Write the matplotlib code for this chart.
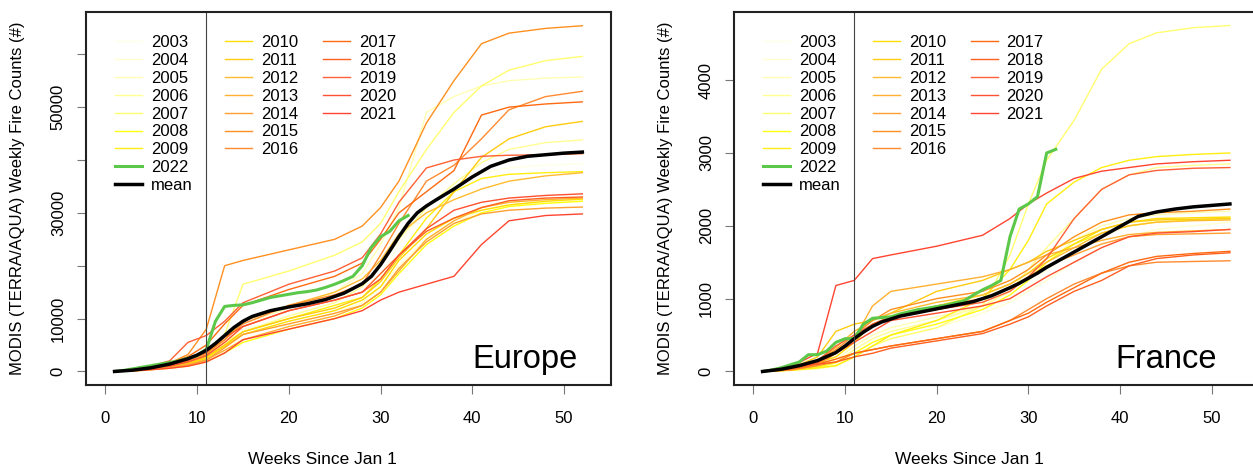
import matplotlib.pyplot as plt

plt.rcParams['font.family'] = ['Liberation Sans', 'DejaVu Sans']

# years and their colours (pale yellow -> red)
years = list(range(2003, 2022))
year_colors = ['#FFFFE6', '#FFFFD2', '#FFFFB4', '#FFFF94', '#FFFF70', '#FFFF10',
               '#FFEE10', '#FFDD00', '#FFCC10', '#FFBB30', '#FFB030', '#FFA030',
               '#FF9020', '#FF8A30', '#FF6A10', '#FF6020', '#FF6035', '#FF5030',
               '#FF4530']
green_2022 = '#5CC84A'

# cumulative weekly fire counts, read at these weeks
weeks = [1, 4, 7, 9, 11, 13, 15, 20, 25, 28, 30, 32, 35, 38, 41, 44, 48, 52]
weeks_2022 = list(range(1, 34))
weeks_mean = [1, 3, 5, 7, 9, 10, 11, 12, 13, 14, 15, 16, 18, 20, 22, 24, 26, 28, 29,
              30, 31, 32, 33, 34, 35, 36, 38, 40, 42, 44, 46, 48, 50, 52]

europe_counts = [
    [0, 300, 900, 1600, 2800, 5500, 8000, 10000, 12000, 14000, 18000, 24000, 31000, 35000, 37500, 38500, 39000, 39300],  # 2003
    [0, 200, 700, 1200, 2200, 4500, 7000, 9000, 11000, 13000, 16000, 20000, 25000, 28000, 30500, 31500, 32000, 32300],  # 2004
    [0, 400, 1200, 2000, 3500, 6500, 9000, 12000, 15000, 18500, 24000, 31000, 49000, 52000, 54000, 55000, 55500, 55700],  # 2005
    [0, 400, 1000, 1800, 3000, 5500, 7500, 10500, 13000, 16000, 20000, 25000, 31000, 35500, 39500, 42000, 43300, 43800],  # 2006
    [0, 400, 1100, 2000, 3800, 7000, 16500, 19000, 22000, 24500, 28000, 34000, 42000, 49000, 54000, 57000, 58800, 59600],  # 2007
    [0, 200, 600, 1000, 1800, 3500, 5500, 8000, 10000, 12000, 14500, 18500, 24000, 27500, 30000, 31200, 31800, 32200],  # 2008
    [0, 300, 800, 1400, 2500, 5000, 7500, 10000, 12500, 14000, 17500, 22000, 29000, 34000, 36500, 37300, 37600, 37800],  # 2009
    [0, 300, 900, 1500, 2500, 4800, 7000, 9500, 11500, 13500, 16000, 21000, 26000, 29000, 30500, 31500, 32200, 32600],  # 2010
    [0, 400, 1000, 1600, 2800, 5000, 7500, 10000, 12000, 14000, 17000, 21500, 27000, 34000, 40500, 44000, 46300, 47300],  # 2011
    [0, 400, 1100, 1800, 3200, 6000, 9500, 12500, 15000, 17500, 21000, 26000, 30000, 32500, 34500, 36000, 37000, 37600],  # 2012
    [0, 300, 800, 1300, 2200, 4000, 6000, 8500, 10500, 12500, 15000, 19000, 25000, 28500, 31000, 32000, 32500, 32800],  # 2013
    [0, 200, 700, 1200, 2100, 4500, 7000, 9000, 11000, 12500, 15000, 19500, 24500, 28000, 29800, 30500, 30900, 31100],  # 2014
    [0, 600, 1600, 3200, 8000, 20000, 21000, 23000, 25000, 27500, 31000, 36000, 47000, 55000, 62000, 64000, 64900, 65400],  # 2015
    [0, 400, 1200, 2000, 3500, 6000, 9000, 12500, 14500, 16500, 22000, 28000, 36000, 39000, 44000, 49500, 52000, 53000],  # 2016
    [0, 500, 1600, 2800, 5000, 9000, 12500, 15500, 18000, 20500, 25000, 30000, 34000, 38000, 48500, 50000, 50600, 51000],  # 2017
    [0, 400, 1200, 2200, 3500, 6500, 8500, 11500, 13500, 15000, 18500, 22000, 26500, 29000, 31000, 32300, 32800, 33000],  # 2018
    [0, 600, 2000, 5500, 6800, 9500, 13000, 16500, 19000, 21500, 26000, 32000, 38500, 40000, 40700, 40900, 41000, 41200],  # 2019
    [0, 400, 1000, 1800, 3000, 5500, 8500, 11500, 13500, 15000, 17500, 22000, 27000, 30500, 32000, 32800, 33300, 33600],  # 2020
    [0, 200, 600, 1000, 1800, 3500, 6000, 8000, 10000, 11500, 13500, 15000, 16500, 18000, 24000, 28500, 29500, 29800],  # 2021
]
europe_2022 = [0, 200, 500, 800, 1100, 1400, 1700, 2000, 2500, 3000, 4200, 9500, 12300,
               12500, 12600, 13000, 13500, 14000, 14300, 14600, 14900, 15100, 15400, 15900,
               16500, 17200, 18000, 20000, 23500, 25500, 26500, 28500, 29500]
europe_mean = [0, 250, 700, 1400, 2400, 3100, 4000, 5300, 6800, 8300, 9500, 10400, 11500,
               12200, 12800, 13600, 14800, 16600, 18000, 20200, 22800, 25500, 28000, 30000,
               31300, 32400, 34500, 36800, 38800, 40000, 40700, 41000, 41300, 41500]

france_counts = [
    [0, 20, 50, 90, 250, 400, 500, 700, 850, 1000, 1150, 1400, 1650, 1850, 2000, 2080, 2110, 2130],  # 2003
    [0, 15, 40, 70, 200, 350, 450, 600, 800, 950, 1100, 1250, 1500, 1700, 1850, 1950, 2000, 2050],  # 2004
    [0, 30, 80, 160, 350, 500, 600, 750, 900, 1100, 1300, 1500, 1800, 2000, 2100, 2150, 2180, 2200],  # 2005
    [0, 20, 60, 120, 300, 450, 550, 700, 900, 1100, 1400, 1700, 2100, 2500, 2700, 2800, 2830, 2850],  # 2006
    [0, 15, 40, 80, 200, 350, 450, 600, 900, 1600, 2300, 2900, 3450, 4150, 4500, 4650, 4720, 4750],  # 2007
    [0, 20, 60, 120, 250, 400, 500, 650, 850, 1050, 1250, 1500, 1750, 1900, 2000, 2050, 2080, 2100],  # 2008
    [0, 15, 50, 80, 200, 350, 500, 700, 1000, 1400, 1800, 2300, 2600, 2800, 2900, 2950, 2980, 3000],  # 2009
    [0, 40, 120, 200, 400, 650, 750, 900, 1050, 1200, 1350, 1550, 1750, 1950, 2050, 2100, 2110, 2120],  # 2010
    [0, 40, 200, 550, 650, 700, 800, 1100, 1250, 1400, 1500, 1650, 1800, 1950, 2050, 2080, 2090, 2100],  # 2011
    [0, 50, 150, 330, 550, 700, 800, 950, 1050, 1200, 1350, 1500, 1700, 1900, 2000, 2050, 2070, 2080],  # 2012
    [0, 20, 80, 250, 450, 900, 1100, 1200, 1300, 1400, 1500, 1600, 1700, 1800, 1880, 1910, 1930, 1950],  # 2013
    [0, 30, 120, 250, 450, 650, 750, 900, 1000, 1150, 1300, 1450, 1600, 1750, 1850, 1880, 1890, 1900],  # 2014
    [0, 40, 150, 300, 500, 700, 850, 1000, 1100, 1250, 1400, 1600, 1850, 2050, 2150, 2180, 2200, 2230],  # 2015
    [0, 20, 80, 130, 250, 300, 350, 450, 550, 700, 850, 1000, 1200, 1350, 1450, 1500, 1510, 1520],  # 2016
    [0, 30, 100, 170, 250, 300, 350, 450, 550, 700, 800, 950, 1150, 1350, 1500, 1580, 1620, 1650],  # 2017
    [0, 80, 100, 130, 200, 250, 320, 420, 520, 650, 750, 900, 1100, 1250, 1450, 1550, 1600, 1630],  # 2018
    [0, 50, 150, 350, 500, 650, 750, 850, 950, 1100, 1300, 1550, 2100, 2500, 2700, 2760, 2790, 2800],  # 2019
    [0, 40, 120, 250, 400, 550, 700, 800, 900, 1000, 1150, 1300, 1500, 1700, 1850, 1900, 1920, 1950],  # 2020
    [0, 60, 250, 1180, 1250, 1550, 1600, 1720, 1870, 2100, 2300, 2450, 2650, 2750, 2800, 2850, 2880, 2900],  # 2021
]
france_2022 = [0, 20, 50, 90, 130, 230, 230, 280, 400, 450, 450, 650, 730, 740, 750, 790,
               820, 850, 870, 890, 910, 940, 970, 1050, 1120, 1180, 1250, 1850, 2230, 2300,
               2400, 3000, 3050]
france_mean = [0, 30, 80, 150, 260, 350, 450, 540, 620, 680, 720, 760, 810, 860, 910, 960,
               1040, 1150, 1210, 1280, 1350, 1430, 1500, 1570, 1640, 1710, 1850, 1990, 2130,
               2190, 2230, 2260, 2280, 2300]

europe_yticks = [0, 10000, 20000, 30000, 40000, 50000, 60000]
europe_ylabels = ['0', '10000', '', '30000', '', '50000', '']
france_yticks = [0, 1000, 2000, 3000, 4000]
france_ylabels = ['0', '1000', '2000', '3000', '4000']
xticks = [0, 10, 20, 30, 40, 50]


def draw_panel(ax, counts, c2022, cmean, ylim, yticks, ylabels, name):
    handles = []
    for yr, col, vals in zip(years, year_colors, counts):
        ln, = ax.plot(weeks, vals, color=col, lw=1.0, label=str(yr))
        handles.append(ln)
    g, = ax.plot(weeks_2022, c2022, color=green_2022, lw=2.2, label='2022')
    m, = ax.plot(weeks_mean, cmean, color='black', lw=2.5, label='mean')
    ax.axvline(11, color='#444444', lw=0.8)

    ax.set_xlim(-2.12, 55.12)
    ax.set_ylim(*ylim)
    ax.set_xticks(xticks)
    ax.set_yticks(yticks)
    ax.set_yticklabels(ylabels)
    for key in ax.spines:
        ax.spines[key].set_linewidth(1.5)
        ax.spines[key].set_color('#222222')
    ax.tick_params(direction='out', length=6.5, width=0.8, color='#777777',
                   labelsize=12)
    ax.tick_params(axis='x', pad=12)
    ax.tick_params(axis='y', pad=8, labelrotation=90)
    for lbl in ax.get_yticklabels():
        lbl.set_va('center')

    ax.set_xlabel('Weeks Since Jan 1', fontsize=12.5)
    ax.xaxis.set_label_coords(0.4495, -0.1986)
    ax.xaxis.label.set_va('center')
    ax.set_ylabel('MODIS (TERRA/AQUA) Weekly Fire Counts (#)', fontsize=12)
    ax.yaxis.set_label_coords(-0.1305, 0.5)
    ax.yaxis.label.set_va('center')

    # legend in three columns (each drawn once as a separate artist)
    leg_kw = dict(loc='upper left', frameon=False, fontsize=12, handlelength=1.65,
                  handletextpad=0.5, labelspacing=0.17, borderpad=0, borderaxespad=0)
    groups = [(handles[:7] + [g, m], 0.0552),
              (handles[7:14], 0.2648),
              (handles[14:], 0.4514)]
    for hs, x0 in groups:
        leg = ax.legend(handles=hs, bbox_to_anchor=(x0, 0.937), **leg_kw)
        ax.add_artist(leg)
    ax.legend_ = None

    ax.text(name[1], 0.0455, name[0], transform=ax.transAxes, ha='right',
            va='baseline', fontsize=23.5)


fig = plt.figure(figsize=(12.53, 4.73), dpi=100)
ax1 = fig.add_axes([0.0686, 0.1854, 0.419, 0.7899])
ax2 = fig.add_axes([0.5858, 0.1854, 0.4186, 0.7899])

draw_panel(ax1, europe_counts, europe_2022, europe_mean, (-2620, 68060),
           europe_yticks, europe_ylabels, ('Europe', 0.937))
draw_panel(ax2, france_counts, france_2022, france_mean, (-190, 4940),
           france_yticks, france_ylabels, ('France', 0.9215))

fig.savefig('out.png', dpi=100)
